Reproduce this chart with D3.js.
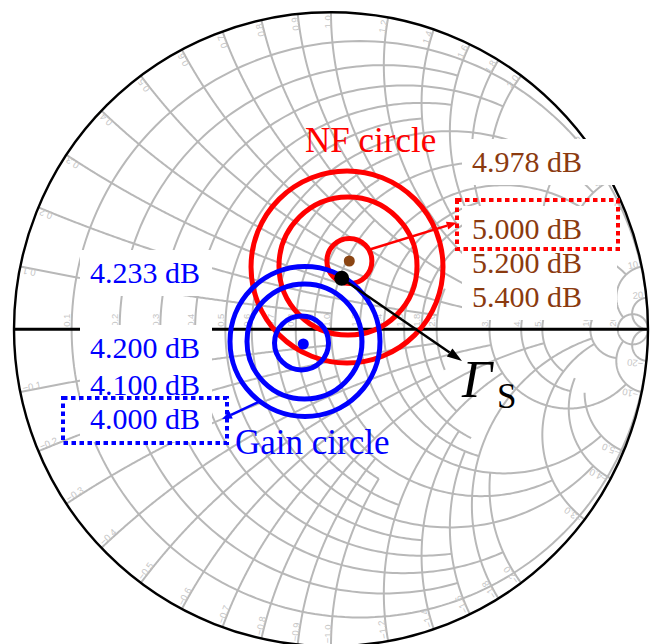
<!DOCTYPE html>
<html>
<head>
<meta charset="utf-8">
<script src="https://cdn.jsdelivr.net/npm/d3@7"></script>
<style>
  html, body { margin: 0; padding: 0; background: #fff; }
  svg { display: block; }
</style>
</head>
<body>
<svg id="chart" width="655" height="644"></svg>
<script>
// ---- Smith chart tick values (normalized impedance) ----
const realTicks = [0.1, 0.2, 0.3, 0.4, 0.5, 0.6, 0.7, 0.8, 0.9, 1.0, 1.2, 1.4, 1.6, 1.8, 2.0, 3.0, 4.0, 5.0, 10, 20];
const imagTicks = [0.1, 0.2, 0.3, 0.4, 0.5, 0.6, 0.7, 0.8, 0.9, 1.0, 1.2, 1.4, 1.6, 1.8, 2.0, 3.0, 4.0, 5.0, 10, 20];

// ---- noise-figure circles (reflection-coefficient plane) ----
const nfLabels   = ["4.978 dB", "5.000 dB", "5.200 dB", "5.400 dB"];
const nfMinPoint = [0.0577, 0.2155];           // optimum source reflection, NFmin = 4.978 dB
const nfCenterRe = [0.0580, 0.0536, 0.0505];
const nfCenterIm = [0.2155, 0.1994, 0.1965];
const nfRadius   = [0.0710, 0.2177, 0.3028];

// ---- available-gain circles ----
const gainLabels   = ["4.233 dB", "4.200 dB", "4.100 dB", "4.000 dB"];
const gainMaxPoint = [-0.0874, -0.0464];       // maximum gain point, 4.233 dB
const gainCenterRe = [-0.0930, -0.0836, -0.0820];
const gainCenterIm = [-0.0432, -0.0385, -0.0385];
const gainRadius   = [0.0852, 0.1814, 0.2366];

// ---- chosen source reflection coefficient ----
const gammaS = [0.0338, 0.1609];

// grid thinning thresholds (distance between neighbouring lines, unit-circle units)
const THR_IMAG = 0.05;
const THR_REAL = 0.045;

const svg = d3.select("#chart");
const W = 655, H = 644;
svg.append("rect").attr("width", W).attr("height", H).attr("fill", "#fff");

const CX = 331, CY = 329.3, RAD = 317;
const sx = d3.scaleLinear().domain([-1, 1]).range([CX - RAD, CX + RAD]);
const sy = d3.scaleLinear().domain([-1, 1]).range([CY + RAD, CY - RAD]);
const pr = d => sx(d) - sx(0);   // radius in pixels

function gam(r, xi) {
  if (!isFinite(r) || !isFinite(xi)) return [1, 0];
  const d = (r + 1) * (r + 1) + xi * xi;
  return [(r * r - 1 + xi * xi) / d, 2 * xi / d];
}
const dist = (p, q) => Math.hypot(p[0] - q[0], p[1] - q[1]);

// ---- fancy grid: terminate lines once they crowd their neighbours ----
const Y = [0].concat(imagTicks);
const imagEnd = new Map();
let tmpY = Y.slice();
for (const xs of realTicks) {
  let k = 1;
  while (k < tmpY.length) {
    if (dist(gam(xs, tmpY[k - 1]), gam(xs, tmpY[k])) < THR_IMAG) {
      imagEnd.set(tmpY[k], xs);
      tmpY.splice(k, 1);
    } else k++;
  }
}
tmpY.slice(1).forEach(v => imagEnd.set(v, Infinity));

const realEnd = new Map();
let tmpX = realTicks.slice();
for (let i = 1; i < Y.length; i++) {
  const y0 = Y[i - 1], y1 = Y[i];
  let k = 1;
  while (k < tmpX.length) {
    if (dist(gam(tmpX[k - 1], y1), gam(tmpX[k], y1)) < THR_REAL) {
      realEnd.set(tmpX[k], y0);
      tmpX.splice(k, 1);
    } else k++;
  }
}
tmpX.forEach(v => realEnd.set(v, Infinity));

const line = d3.line().x(d => sx(d[0])).y(d => sy(d[1]));
const gridG = svg.append("g").attr("fill", "none").attr("stroke", "#b8b8b8").attr("stroke-width", 2);

// resistance circles
realTicks.forEach(r => {
  const yEnd = realEnd.get(r);
  if (!(yEnd > 0)) return;
  const c = r / (1 + r), rad = 1 / (1 + r);
  const te = isFinite(yEnd) ? 2 * Math.atan(yEnd / (r + 1)) : Math.PI;
  const pts = d3.range(0, 241).map(i => {
    const t = -te + 2 * te * i / 240;
    return [c - rad * Math.cos(t), rad * Math.sin(t)];
  });
  gridG.append("path").attr("d", line(pts));
});

// reactance arcs
imagTicks.forEach(xi => {
  const rEnd = imagEnd.get(xi);
  if (!(rEnd > 0)) return;
  const tEnd = isFinite(rEnd) ? rEnd / (1 + rEnd) : 1;
  [xi, -xi].forEach(v => {
    const pts = d3.range(0, 241).map(i => {
      const t = tEnd * i / 240;
      const r = t >= 1 ? Infinity : t / (1 - t);
      return gam(r, v);
    });
    gridG.append("path").attr("d", line(pts));
  });
});

// ---- tick labels ----
const fmt = v => (v >= 10 ? d3.format("d")(v) : d3.format(".1f")(v));
const lblG = svg.append("g").attr("font-family", "'Liberation Sans', Arial, sans-serif")
  .attr("font-size", 9.5).attr("fill", "#c6c6c6");

realTicks.forEach(r => {
  const px = sx(gam(r, 0)[0]) - 1.5, py = CY - 2.5;
  lblG.append("text").attr("transform", `translate(${px},${py}) rotate(-90)`)
    .attr("text-anchor", "start").text(fmt(r));
});

imagTicks.forEach(xi => {
  [xi, -xi].forEach(v => {
    const p = gam(0, v);
    const ex = sx(p[0]), ey = sy(p[1]);
    const inAng = Math.atan2(CY - ey, CX - ex) * 180 / Math.PI;
    const ux = (CX - ex) / RAD, uy = (CY - ey) / RAD;
    const px = ex + ux * 3, py = ey + uy * 3;
    const txt = (v < 0 ? "\u2212" : "") + fmt(Math.abs(v));
    if (v < 0) {
      lblG.append("text").attr("transform", `translate(${px},${py}) rotate(${inAng})`)
        .attr("text-anchor", "start").text(txt);
    } else {
      lblG.append("text").attr("transform", `translate(${px},${py}) rotate(${inAng + 180})`)
        .attr("text-anchor", "end").text(txt);
    }
  });
});

// ---- real axis and outer boundary ----
svg.append("line").attr("x1", sx(-1)).attr("x2", sx(1)).attr("y1", sy(0)).attr("y2", sy(0))
  .attr("stroke", "#000").attr("stroke-width", 3);
svg.append("circle").attr("cx", sx(0)).attr("cy", sy(0)).attr("r", pr(1))
  .attr("fill", "none").attr("stroke", "#000").attr("stroke-width", 2.4);

// ---- NF and gain circles ----
nfRadius.forEach((r, i) => {
  svg.append("circle").attr("cx", sx(nfCenterRe[i])).attr("cy", sy(nfCenterIm[i])).attr("r", pr(r))
    .attr("fill", "none").attr("stroke", "#ff0000").attr("stroke-width", 5);
});
gainRadius.forEach((r, i) => {
  svg.append("circle").attr("cx", sx(gainCenterRe[i])).attr("cy", sy(gainCenterIm[i])).attr("r", pr(r))
    .attr("fill", "none").attr("stroke", "#0000ff").attr("stroke-width", 5);
});
svg.append("circle").attr("cx", sx(nfMinPoint[0])).attr("cy", sy(nfMinPoint[1])).attr("r", 5.5).attr("fill", "#8b4513");
svg.append("circle").attr("cx", sx(gainMaxPoint[0])).attr("cy", sy(gainMaxPoint[1])).attr("r", 5.5).attr("fill", "#0000ff");

// ---- arrows ----
function arrow(x1, y1, x2, y2, color, w, hl, hw) {
  const a = Math.atan2(y2 - y1, x2 - x1);
  const bx = x2 - hl * Math.cos(a), by = y2 - hl * Math.sin(a);
  svg.append("line").attr("x1", x1).attr("y1", y1).attr("x2", bx).attr("y2", by)
    .attr("stroke", color).attr("stroke-width", w);
  const nx = -Math.sin(a) * hw / 2, ny = Math.cos(a) * hw / 2;
  svg.append("path").attr("d", `M${x2},${y2}L${bx + nx},${by + ny}L${bx - nx},${by - ny}Z`).attr("fill", color);
}
// NF label pointer from the 5.000 dB circle
{
  const a = -30 * Math.PI / 180;
  const x1 = sx(nfCenterRe[0]) + pr(nfRadius[0]) * Math.cos(a);
  const y1 = sy(nfCenterIm[0]) + pr(nfRadius[0]) * Math.sin(a);
  arrow(x1, y1, sx(0.3965), sy(0.3363), "#ff0000", 2.5, 10, 8);
}
// gain label pointer from the 4.000 dB circle
{
  const a = 127 * Math.PI / 180;
  const x1 = sx(gainCenterRe[2]) + pr(gainRadius[2]) * Math.cos(a);
  const y1 = sy(gainCenterIm[2]) + pr(gainRadius[2]) * Math.sin(a);
  arrow(x1, y1, sx(-0.3438), sy(-0.283), "#0000ff", 2.5, 10, 8);
}
// source reflection coefficient
arrow(sx(gammaS[0]), sy(gammaS[1]), sx(0.4132), sy(-0.1), "#000", 2.5, 15, 10);
svg.append("circle").attr("cx", sx(gammaS[0])).attr("cy", sy(gammaS[1])).attr("r", 7.5).attr("fill", "#000");

// ---- value labels with white backgrounds ----
const serif = "'Liberation Serif', 'Times New Roman', serif";
const gainBase = [283, 358, 395, 429];
const nfBase = [172, 239, 273, 307];
gainBase.forEach(b => svg.append("rect").attr("x", 80).attr("y", b - 33).attr("width", 132).attr("height", 46).attr("fill", "#fff"));
nfBase.forEach(b => svg.append("rect").attr("x", 462).attr("y", b - 33).attr("width", 155).attr("height", 46).attr("fill", "#fff"));

gainLabels.forEach((t, i) => svg.append("text").attr("x", 90).attr("y", gainBase[i])
  .attr("font-family", serif).attr("font-size", 30).attr("fill", "#0000ff").text(t));
nfLabels.forEach((t, i) => svg.append("text").attr("x", 472).attr("y", nfBase[i])
  .attr("font-family", serif).attr("font-size", 30).attr("fill", "#8b3a0f").text(t));

// highlight boxes around the chosen levels
svg.append("rect").attr("x", 63).attr("y", 398).attr("width", 164).attr("height", 45)
  .attr("fill", "none").attr("stroke", "#0000ff").attr("stroke-width", 4).attr("stroke-dasharray", "4.5,3.5");
svg.append("rect").attr("x", 457).attr("y", 200).attr("width", 161).attr("height", 49)
  .attr("fill", "none").attr("stroke", "#ff0000").attr("stroke-width", 4).attr("stroke-dasharray", "4.5,3.5");

// ---- titles ----
svg.append("text").attr("x", 305).attr("y", 152).attr("font-family", serif).attr("font-size", 35)
  .attr("fill", "#ff0000").text("NF circle");
svg.append("text").attr("x", 235).attr("y", 454).attr("font-family", serif).attr("font-size", 35)
  .attr("fill", "#0000ff").text("Gain circle");
const gs = svg.append("text").attr("font-family", serif).attr("fill", "#000");
gs.append("tspan").attr("x", 462).attr("y", 397).attr("font-size", 53).attr("font-style", "italic").text("\u0393");
gs.append("tspan").attr("x", 497).attr("y", 408).attr("font-size", 35).text("S");
</script>
</body>
</html>
